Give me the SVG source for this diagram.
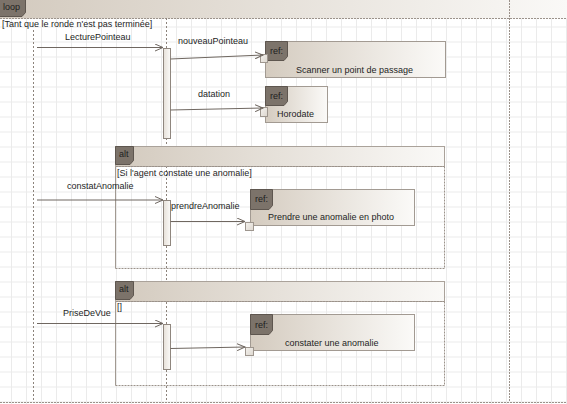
<svg xmlns="http://www.w3.org/2000/svg" width="567" height="404" viewBox="0 0 567 404">
<defs>
<pattern id="grid" x="11" y="11.5" width="15" height="15" patternUnits="userSpaceOnUse">
<path d="M0.5,0 V15 M0,0.5 H15" fill="none" stroke="#ebebeb" stroke-width="1"/>
</pattern>
<linearGradient id="hdr" x1="0" y1="0" x2="1" y2="0">
<stop offset="0" stop-color="#d3cabe"/>
<stop offset="1" stop-color="#faf9f7"/>
</linearGradient>
<linearGradient id="refg" x1="0" y1="0" x2="1" y2="0">
<stop offset="0" stop-color="#d4cbbf"/>
<stop offset="1" stop-color="#fbfaf8"/>
</linearGradient>
<linearGradient id="actg" x1="0" y1="0" x2="1" y2="0">
<stop offset="0" stop-color="#e6e0d8"/>
<stop offset="1" stop-color="#fbfaf8"/>
</linearGradient>
<linearGradient id="sqg" x1="0" y1="0" x2="1" y2="1">
<stop offset="0" stop-color="#f4f2ee"/>
<stop offset="1" stop-color="#ddd7cf"/>
</linearGradient>
<marker id="arr" markerWidth="10" markerHeight="8" refX="8" refY="4" orient="auto" markerUnits="userSpaceOnUse">
<path d="M0,0.5 L8,4 L0,7.5" fill="none" stroke="#6f6760" stroke-width="1"/>
</marker>
</defs>
<style>
text{font-family:"Liberation Sans",Arial,sans-serif;font-size:9px;fill:#1e1e1e}
.life{stroke:#8c837b;stroke-width:1;stroke-dasharray:2,2;fill:none}
.msg{stroke:#6f6760;stroke-width:1;fill:none}
.ref{fill:url(#refg);stroke:#a29a92;stroke-width:1}
.tab{fill:#7c736a;stroke:#5e564f;stroke-width:1}
.hdr{fill:url(#hdr);stroke:#aaa29a;stroke-width:1}
.act{fill:url(#actg);stroke:#8f867e;stroke-width:1}
.sq{fill:url(#sqg);stroke:#9e968e;stroke-width:1}
.dash{stroke:#9b928a;stroke-width:1;stroke-dasharray:2,1;fill:none}
.frame{stroke:#a29a92;stroke-width:1;fill:none}
</style>
<rect width="567" height="404" fill="#ffffff"/>
<rect width="567" height="404" fill="url(#grid)"/>

<g id="loop-frame">
<rect x="-1" y="-1" width="569" height="19.5" fill="url(#hdr)"/>
<path class="tab" d="M-1,-1 H25.5 V12.5 L22,16.5 H-1 Z"/>
<text x="3" y="10">loop</text>
<line class="dash" x1="0" y1="18.5" x2="567" y2="18.5"/>
<line class="dash" x1="509.5" y1="0" x2="509.5" y2="402"/>
<line class="dash" x1="0" y1="402.5" x2="567" y2="402.5"/>
<text x="2" y="27">[Tant que le ronde n'est pas terminée]</text>
</g>

<g id="lifeline-actor">
<line class="life" x1="33.5" y1="30" x2="33.5" y2="402"/>
</g>
<g id="lifeline-system">
<line class="life" x1="166.5" y1="18" x2="166.5" y2="402"/>
</g>

<g id="alt-1">
<rect class="hdr" x="115.5" y="146.5" width="329" height="20"/>
<path class="tab" d="M115.5,146.5 H133.5 V160.5 L130,164.5 H115.5 Z"/>
<text x="119" y="157">alt</text>
<line class="dash" x1="116" y1="166.5" x2="444" y2="166.5" stroke="#bdb5ad"/>
<line class="frame" x1="115.5" y1="166.5" x2="115.5" y2="268.5"/>
<path class="dash" d="M115.5,268.5 H444.5 V166.5"/>
<text x="117" y="175.5">[Si l'agent constate une anomalie]</text>
</g>

<g id="alt-2">
<rect class="hdr" x="115.5" y="281.5" width="329" height="20"/>
<path class="tab" d="M115.5,281.5 H133.5 V295.5 L130,299.5 H115.5 Z"/>
<text x="119" y="292">alt</text>
<line class="dash" x1="116" y1="301.5" x2="444" y2="301.5" stroke="#bdb5ad"/>
<line class="frame" x1="115.5" y1="301.5" x2="115.5" y2="385.5"/>
<path class="dash" d="M115.5,385.5 H444.5 V301.5"/>
<text x="117" y="310">[]</text>
</g>

<g id="activation-1"><rect class="act" x="163.5" y="48.5" width="7" height="90"/></g>
<g id="activation-2"><rect class="act" x="163.5" y="200.5" width="7" height="45"/></g>
<g id="activation-3"><rect class="act" x="163.5" y="324.5" width="7" height="45"/></g>

<g id="ref-scanner">
<rect class="ref" x="265.5" y="41.5" width="180" height="36"/>
<path class="tab" d="M265.5,41.5 H287.5 V56.5 L284,60.5 H265.5 Z"/>
<text x="270" y="54">ref:</text>
<text x="296" y="72.5">Scanner un point de passage</text>
<rect class="sq" x="260.5" y="54.5" width="7" height="8"/>
</g>

<g id="ref-horodate">
<rect class="ref" x="265.5" y="86.5" width="62" height="36"/>
<path class="tab" d="M265.5,86.5 H287.5 V101.5 L284,105.5 H265.5 Z"/>
<text x="270" y="99">ref:</text>
<text x="277" y="117">Horodate</text>
<rect class="sq" x="260.5" y="107.5" width="7" height="9"/>
</g>

<g id="ref-photo">
<rect class="ref" x="250.5" y="189.5" width="164" height="36"/>
<path class="tab" d="M250.5,189.5 H272.5 V205.5 L269,209.5 H250.5 Z"/>
<text x="255" y="202">ref:</text>
<text x="268" y="219.5">Prendre une anomalie en photo</text>
<rect class="sq" x="245.5" y="222.5" width="8" height="8"/>
</g>

<g id="ref-constater">
<rect class="ref" x="250.5" y="314.5" width="164" height="36"/>
<path class="tab" d="M250.5,314.5 H272.5 V330.5 L269,334.5 H250.5 Z"/>
<text x="255" y="327.5">ref:</text>
<text x="285" y="346">constater une anomalie</text>
<rect class="sq" x="245.5" y="347.5" width="8" height="8"/>
</g>

<g id="connectors">
<line class="msg" x1="37" y1="47.5" x2="163" y2="47.5" marker-end="url(#arr)"/>
<text x="65" y="40">LecturePointeau</text>
<line class="msg" x1="170.5" y1="59" x2="263" y2="55" marker-end="url(#arr)"/>
<text x="178" y="44">nouveauPointeau</text>
<line class="msg" x1="170.5" y1="110" x2="263" y2="108" marker-end="url(#arr)"/>
<text x="198" y="96.5">datation</text>
<line class="msg" x1="37" y1="200" x2="163" y2="200" marker-end="url(#arr)"/>
<text x="67" y="188.5">constatAnomalie</text>
<line class="msg" x1="170.5" y1="221.5" x2="245" y2="221.5" marker-end="url(#arr)"/>
<text x="171" y="208.5">prendreAnomalie</text>
<line class="msg" x1="37" y1="323.5" x2="163" y2="323.5" marker-end="url(#arr)"/>
<text x="63" y="316">PriseDeVue</text>
<line class="msg" x1="170.5" y1="348.5" x2="245" y2="347" marker-end="url(#arr)"/>
</g>
</svg>
